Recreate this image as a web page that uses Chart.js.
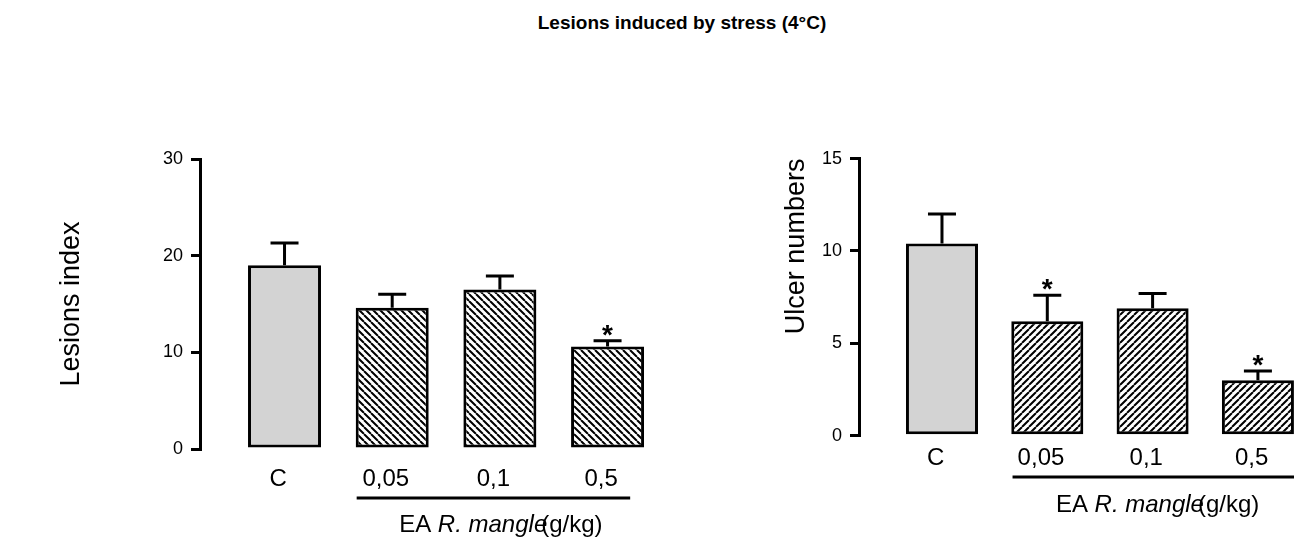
<!DOCTYPE html>
<html>
<head>
<meta charset="utf-8">
<script src="https://cdn.jsdelivr.net/npm/chart.js@4"></script>
<style>
  html, body { margin: 0; padding: 0; background: #fff; overflow: hidden; width: 1294px; height: 541px; position: relative; }
  #title { position: absolute; top: 12px; left: 0; width: 1364px; text-align: center; font: bold 19px 'Liberation Sans', Arial, sans-serif; color: #000; }
  canvas { position: absolute; top: 0; }
</style>
</head>
<body>
<div id="title">Lesions induced by stress (4°C)</div>
<canvas id="lesions" width="700" height="541" style="left:0"></canvas>
<canvas id="ulcers" width="700" height="541" style="left:700px"></canvas>
<script>
const FONT = "'Liberation Sans', Arial, sans-serif";

// groups (C = control, then doses of EA R. mangle in g/kg)
const groups = ['C', '0,05', '0,1', '0,5'];

// left panel: lesions index (mean, SEM)
const lesionIndex = [19.0, 14.6, 16.5, 10.6];
const lesionSem = [2.3, 1.4, 1.4, 0.6];
const lesionSignif = [false, false, false, true];

// right panel: ulcer numbers (mean, SEM)
const ulcerNumbers = [10.4, 6.2, 6.9, 3.0];
const ulcerSem = [1.6, 1.4, 0.8, 0.5];
const ulcerSignif = [false, true, false, true];

function hatch(dir) {
  const s = 7;
  const c = document.createElement('canvas');
  c.width = c.height = s;
  const g = c.getContext('2d');
  g.fillStyle = '#fff';
  g.fillRect(0, 0, s, s);
  g.strokeStyle = '#000';
  g.lineWidth = 2;
  g.beginPath();
  for (const k of [-s, 0, s]) {
    if (dir === '\\') { g.moveTo(k, 0); g.lineTo(k + s, s); }
    else { g.moveTo(k, s); g.lineTo(k + s, 0); }
  }
  g.stroke();
  return g.createPattern(c, 'repeat');
}

// error bars, stars, group underline and its label
function extras(o) {
  return {
    id: 'extras',
    afterDatasetsDraw(chart) {
      const { ctx, chartArea, scales: { x, y } } = chart;
      const bars = chart.getDatasetMeta(0).data;
      ctx.save();
      ctx.strokeStyle = '#000';
      ctx.fillStyle = '#000';
      ctx.lineWidth = 3;
      bars.forEach((bar, i) => {
        const top = y.getPixelForValue(o.values[i] + o.errors[i]);
        ctx.beginPath();
        ctx.moveTo(bar.x, bar.y);
        ctx.lineTo(bar.x, top);
        ctx.moveTo(bar.x - 14, top);
        ctx.lineTo(bar.x + 14, top);
        ctx.stroke();
        if (o.signif[i]) {
          ctx.font = 'bold 28px ' + FONT;
          ctx.textAlign = 'center';
          ctx.textBaseline = 'alphabetic';
          ctx.fillText('*', bar.x, top + 3);
        }
      });

      const b = chartArea.bottom;
      const step = x.getPixelForValue(1) - x.getPixelForValue(0);
      ctx.beginPath();
      ctx.moveTo(x.getPixelForValue(1) - 0.33 * step, b + o.lineGap);
      ctx.lineTo(x.getPixelForValue(3) + o.lineEnd * step, b + o.lineGap);
      ctx.stroke();

      const size = 24;
      const parts = [['EA ', ''], ['R. mangle', 'italic '], ['(g/kg)', '']];
      let w = 0;
      parts.forEach(p => { ctx.font = p[1] + size + 'px ' + FONT; w += ctx.measureText(p[0]).width; });
      w -= 6;
      let cx = x.getPixelForValue(2) + o.labelShift - w / 2;
      ctx.textAlign = 'left';
      ctx.textBaseline = 'middle';
      parts.forEach((p, i) => {
        ctx.font = p[1] + size + 'px ' + FONT;
        if (i === 2) cx -= 6;
        ctx.fillText(p[0], cx, b + o.labelGap);
        cx += ctx.measureText(p[0]).width;
      });
      ctx.restore();
    }
  };
}

function barChart(id, o) {
  const ctx = document.getElementById(id).getContext('2d');
  const pattern = hatch(o.hatch);
  return new Chart(ctx, {
    type: 'bar',
    data: {
      datasets: [{
        data: o.values.map((v, i) => ({ x: i, y: v })),
        backgroundColor: o.values.map((_, i) => i === 0 ? '#d3d3d3' : pattern),
        borderColor: '#000',
        borderWidth: 3,
        borderSkipped: false,
        barPercentage: o.barPct,
        categoryPercentage: 1
      }]
    },
    options: {
      responsive: false,
      animation: false,
      layout: { padding: { top: o.top, left: 0, right: o.right, bottom: 0 } },
      plugins: { legend: { display: false }, tooltip: { enabled: false } },
      scales: {
        x: {
          type: 'linear',
          offset: false,
          bounds: 'data',
          min: o.xMin,
          max: o.xMax,
          afterFit: s => { s.height = o.xHeight; },
          // labels sit a little left of the bar centres in the original
          afterBuildTicks: s => { s.ticks = groups.map((_, i) => ({ value: i - 0.06 })); },
          border: { display: false },
          grid: { display: false, drawTicks: false, offset: false },
          ticks: {
            autoSkip: false, maxRotation: 0,
            padding: o.xPad, color: '#000', font: { size: 24, family: FONT },
            callback: v => groups[Math.round(v)] ?? ''
          }
        },
        y: {
          min: 0,
          max: o.yMax,
          afterFit: s => { s.width = o.yWidth; },
          border: { display: true, color: '#000', width: 3 },
          grid: { drawOnChartArea: false, color: '#000', lineWidth: 3, tickLength: 9 },
          ticks: { stepSize: o.yStep, padding: 8, color: '#000', font: { size: 18, family: FONT } },
          title: {
            display: true, text: o.yTitle, color: '#000', align: o.titleAlign,
            font: { size: 27, family: FONT }, padding: { top: o.titlePad, bottom: 0 }
          }
        }
      }
    },
    plugins: [extras(o)]
  });
}

barChart('lesions', {
  values: lesionIndex, errors: lesionSem, signif: lesionSignif,
  hatch: '\\', yTitle: 'Lesions index', titleAlign: 'center', titlePad: 55.8,
  yMax: 30, yStep: 10, top: 159, right: 38.6, xHeight: 92, yWidth: 200,
  xMin: -0.785, xMax: 3.5, barPct: 0.678, xPad: 16,
  lineGap: 49, lineEnd: 0.21, labelGap: 76.5, labelShift: 1
});

barChart('ulcers', {
  values: ulcerNumbers, errors: ulcerSem, signif: ulcerSignif,
  hatch: '/', yTitle: 'Ulcer numbers', titleAlign: 'end', titlePad: 80.8,
  yMax: 15, yStep: 5, top: 158.6, right: 78.9, xHeight: 105.3, yWidth: 159,
  xMin: -0.788, xMax: 3.6, barPct: 0.684, xPad: 8,
  lineGap: 41.3, lineEnd: 0.6, labelGap: 69.3, labelShift: 5
});
</script>
</body>
</html>
